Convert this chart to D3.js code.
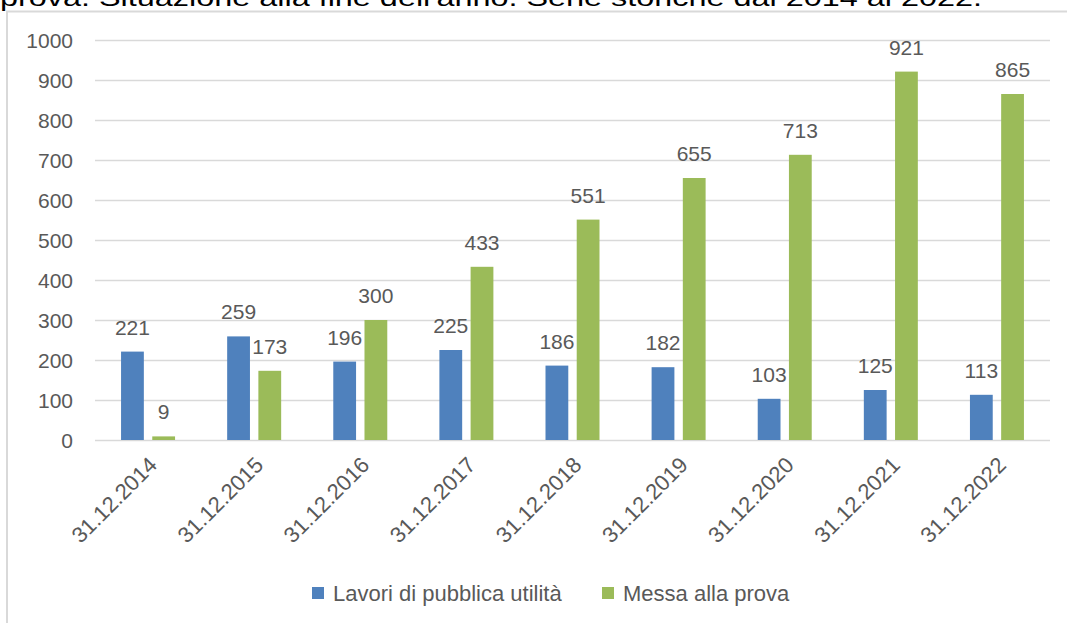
<!DOCTYPE html>
<html>
<head>
<meta charset="utf-8">
<script src="https://cdn.jsdelivr.net/npm/d3@7"></script>
<style>
  html, body { margin: 0; padding: 0; background: #fff; overflow: hidden; }
  svg { display: block; }
</style>
</head>
<body>
<svg id="chart" width="1067" height="623"></svg>
<script>
const categories = ["31.12.2014","31.12.2015","31.12.2016","31.12.2017","31.12.2018","31.12.2019","31.12.2020","31.12.2021","31.12.2022"];
const seriesNames = ["Lavori di pubblica utilità","Messa alla prova"];
const lavori = [221,259,196,225,186,182,103,125,113];
const messa = [9,173,300,433,551,655,713,921,865];
const yTicks = [0,100,200,300,400,500,600,700,800,900,1000];
const titleText = "prova. Situazione alla fine dell'anno. Serie storiche dal 2014 al 2022.";
const colors = ["#4F81BD","#9BBB59"];

const svg = d3.select("#chart");
const font = "'Liberation Sans', Arial, sans-serif";
const textColor = "#595959";

// Title (cut off at top, as in the source image)
svg.append("text")
  .attr("x", 0).attr("y", 6)
  .attr("font-family", font).attr("font-size", 24)
  .attr("fill", "#000")
  .attr("textLength", 982).attr("lengthAdjust", "spacingAndGlyphs")
  .text(titleText);

// Frame
svg.append("path")
  .attr("d", "M7,623 L7,11.5 L1067,11.5")
  .attr("fill", "none").attr("stroke", "#D9D9D9").attr("stroke-width", 2);

const x = d3.scaleBand().domain(categories).range([95, 1050]).padding(0);
const y = d3.scaleLinear().domain([0, 1000]).range([440, 40]);
const groupW = 54;
const x1 = d3.scaleBand().domain(seriesNames).range([0, groupW]).paddingInner(0.27);

// Gridlines
svg.append("g").selectAll("line").data(yTicks).join("line")
  .attr("x1", 95).attr("x2", 1050)
  .attr("y1", d => Math.round(y(d)) + 0.5).attr("y2", d => Math.round(y(d)) + 0.5)
  .attr("stroke", "#D9D9D9").attr("stroke-width", 1.3);

// Y axis labels
const yAxis = d3.axisLeft(y).tickValues(yTicks).tickFormat(d3.format("d")).tickSize(0).tickPadding(0);
const gy = svg.append("g").attr("transform", "translate(73,0)").call(yAxis);
gy.select(".domain").remove();
gy.selectAll("text").attr("font-family", font).attr("font-size", 21).attr("fill", textColor).attr("dy", "0.35em");

// Bars
const data = categories.map((c, i) => ({ c, vals: [lavori[i], messa[i]] }));
const groups = svg.append("g").selectAll("g").data(data).join("g")
  .attr("transform", d => `translate(${x(d.c) + (x.bandwidth() - groupW) / 2},0)`);

groups.selectAll("rect").data(d => d.vals.map((v, j) => ({ v, s: seriesNames[j], j })))
  .join("rect")
  .attr("x", d => x1(d.s)).attr("width", x1.bandwidth())
  .attr("y", d => y(d.v)).attr("height", d => y(0) - y(d.v))
  .attr("fill", d => colors[d.j]);

groups.selectAll("text.lbl").data(d => d.vals.map((v, j) => ({ v, s: seriesNames[j], j })))
  .join("text").attr("class", "lbl")
  .attr("x", d => x1(d.s) + x1.bandwidth() / 2)
  .attr("y", d => y(d.v) - 17)
  .attr("text-anchor", "middle")
  .attr("font-family", font).attr("font-size", 21).attr("fill", textColor)
  .text(d => d.v);

// X axis labels
const xAxis = d3.axisBottom(x).tickSize(0).tickPadding(0);
const gx = svg.append("g").attr("transform", "translate(0,440)").call(xAxis);
gx.select(".domain").remove();
gx.selectAll("text")
  .attr("font-family", font).attr("font-size", 22).attr("fill", textColor)
  .attr("text-anchor", "end")
  .attr("transform", "translate(5,21) rotate(-45)")
  .attr("y", 0).attr("dy", "0.35em").attr("x", 0);

// Legend
const legend = svg.append("g");
const legX = [312, 602];
seriesNames.forEach((s, i) => {
  legend.append("rect").attr("x", legX[i]).attr("y", 587).attr("width", 12).attr("height", 12).attr("fill", colors[i]);
  legend.append("text").attr("x", legX[i] + 21).attr("y", 601)
    .attr("font-family", font).attr("font-size", 22).attr("fill", textColor).text(s);
});
</script>
</body>
</html>
